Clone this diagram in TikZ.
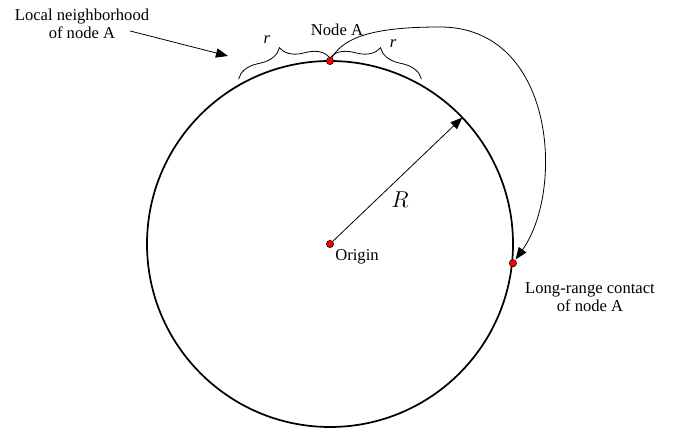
\documentclass[tikz,border=0pt]{standalone}
\usepackage{fontspec}
\setmainfont{Liberation Serif}
\usetikzlibrary{arrows.meta,positioning,decorations.pathreplacing}

\tikzset{
  dot/.style={circle,fill=red,draw=black,line width=0.4pt,inner sep=0pt,minimum size=5.5pt},
  lbl/.style={font=\fontsize{12.5}{13.5}\selectfont,align=center,inner sep=1pt},
  tip/.style={-{Triangle[length=9pt,width=7pt]},line width=0.6pt},
  nbrace/.style={decorate,decoration={brace,amplitude=16pt},line width=0.6pt}
}

\begin{document}
\begin{tikzpicture}[scale=1.21]
  \useasboundingbox (-7.213,-4.284) rectangle (7.628,5.333);
  \draw[line width=1.3pt] (0,0) circle (4);
  % points on the ring
  \node[dot] (O) at (0,0) {};
  \node[dot] (A) at (90:4) {};
  \node[dot] (B) at (-6:4.02) {};
  \coordinate (Rend) at (43.7:4);
  \coordinate (bl) at (119:4.12); \coordinate (bm) at (90:4.07); \coordinate (br) at (61:4.12);
  % braces
  \draw[nbrace] (bl) -- (bm);
  \draw[nbrace] (bm) -- (br);
  \node[lbl] (rl) at (-1.38,4.46) {\textit{r}};
  \node[lbl] (rr) at (1.38,4.37) {\textit{r}};
  % labels
  \node[lbl] (nA) at (0.153,4.678) {Node A};
  \node[lbl] (org) at (0.59,-0.284) {Origin};
  \node[lbl] (lrc) at (5.683,-1.158) {Long-range contact\\of node A};
  \node[lbl] (nbh) at (-5.421,4.809) {Local neighborhood\\of node A};
  \node[font=\fontsize{17}{19}\selectfont] (Rl) at (1.53,0.98) {$R$};
  % arrows
  \draw[tip] (O) -- (Rend);
  \coordinate (nbhtail) at (-4.372,4.656);
  \coordinate (nbhtip) at (-2.230,4.109);
  \draw[tip] (nbhtail) -- (nbhtip);
  \draw[tip,shorten >=0.5pt] (A) .. controls (0.328,4.568) and (1.093,4.743) .. (2.404,4.743)
     .. controls (4.918,4.743) and (5.137,1.180) .. (B);
\end{tikzpicture}
\end{document}
